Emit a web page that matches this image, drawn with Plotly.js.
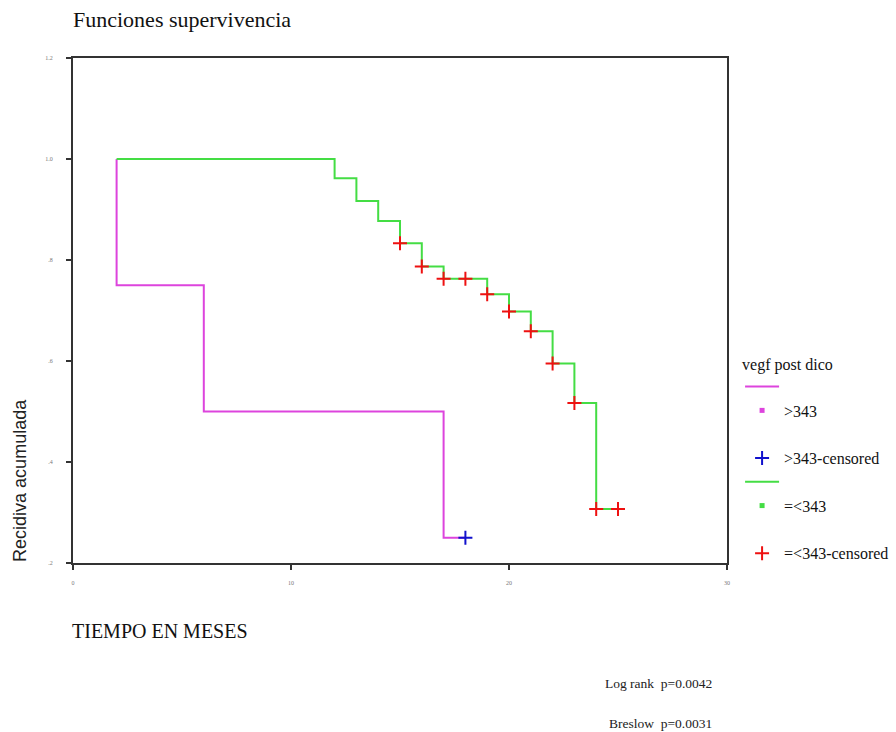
<!DOCTYPE html>
<html>
<head>
<meta charset="utf-8">
<script src="https://cdn.plot.ly/plotly-3.0.1.min.js"></script>
<style>html,body{margin:0;padding:0;background:#fff;}#chart{width:896px;height:732px;}</style>
</head>
<body>
<div id="chart"></div>
<script>
// >343 group: step curve
const highTimes = [2, 2, 6, 17, 18];
const highSurv = [1.0, 0.75, 0.5, 0.25, 0.25];
const highCensTimes = [18];
const highCensSurv = [0.25];

// =<343 group: step curve
const lowTimes = [2, 12, 13, 14, 15, 16, 17, 19, 20, 21, 22, 23, 24, 25];
const lowSurv = [1.0, 0.962, 0.917, 0.877, 0.833, 0.787, 0.763, 0.732, 0.698, 0.659, 0.595, 0.517, 0.307, 0.307];
const lowCensTimes = [15, 16, 17, 18, 19, 20, 21, 22, 23, 24, 25];
const lowCensSurv = [0.833, 0.787, 0.763, 0.763, 0.732, 0.698, 0.659, 0.595, 0.517, 0.307, 0.307];

const xTickVals = [0, 10, 20, 30];
const xTickText = ['0', '10', '20', '30'];
const yTickVals = [0.2, 0.4, 0.6, 0.8, 1.0, 1.2];
const yTickText = ['.2', '.4', '.6', '.8', '1.0', '1.2'];

const legendTitle = 'vegf post dico';
const groupNames = ['>343', '=<343'];
const statLines = ['Log rank  p=0.0042', 'Breslow  p=0.0031'];

const magenta = '#dd44dd';
const green = '#44dd44';
const red = '#ee1111';
const blue = '#1111cc';
const serif = 'Liberation Serif, Times New Roman, serif';
const sans = 'Liberation Sans, Arial, sans-serif';

function spacer() {
  return {x: [null], y: [null], mode: 'markers',
          marker: {color: 'rgba(0,0,0,0)', size: 1, line: {width: 0, color: 'rgba(0,0,0,0)'}},
          name: ' ', showlegend: true, hoverinfo: 'skip'};
}

const traces = [
  {x: highTimes, y: highSurv, mode: 'lines', line: {shape: 'hv', color: magenta, width: 2},
   name: ' ', showlegend: true, hoverinfo: 'skip'},
  {x: [null], y: [null], mode: 'markers', marker: {symbol: 'square', color: magenta, size: 5},
   name: groupNames[0], showlegend: true},
  spacer(),
  {x: highCensTimes, y: highCensSurv, mode: 'markers',
   marker: {symbol: 'cross-thin-open', size: 10, line: {color: blue, width: 2}, color: blue},
   name: groupNames[0] + '-censored'},
  {x: lowTimes, y: lowSurv, mode: 'lines', line: {shape: 'hv', color: green, width: 2},
   name: ' ', showlegend: true, hoverinfo: 'skip'},
  {x: [null], y: [null], mode: 'markers', marker: {symbol: 'square', color: green, size: 5},
   name: groupNames[1], showlegend: true},
  spacer(),
  {x: lowCensTimes, y: lowCensSurv, mode: 'markers',
   marker: {symbol: 'cross-thin-open', size: 10, line: {color: red, width: 2}, color: red},
   name: groupNames[1] + '-censored'}
];

const axisCommon = {
  showline: true, mirror: true, linecolor: '#333', linewidth: 2,
  showgrid: false, zeroline: false, ticks: 'outside', ticklen: 5, tickwidth: 2, tickcolor: '#333',
  tickfont: {family: serif, size: 6, color: '#777'}
};

const layout = {
  width: 896, height: 732,
  paper_bgcolor: '#fff', plot_bgcolor: '#fff',
  margin: {l: 73, r: 169, t: 58, b: 169, autoexpand: false},
  title: {text: 'Funciones supervivencia', x: 73/896, xanchor: 'left', xref: 'container',
          y: 1 - 19/732, yanchor: 'middle', yref: 'container',
          font: {family: serif, size: 22, color: '#111'}},
  xaxis: Object.assign({}, axisCommon, {range: [0, 30], tickvals: xTickVals, ticktext: xTickText, ticklabelstandoff: 8}),
  yaxis: Object.assign({}, axisCommon, {range: [0.2, 1.2], tickvals: yTickVals, ticktext: yTickText, ticklabelstandoff: 12}),
  showlegend: true,
  legend: {
    title: {text: legendTitle, font: {family: serif, size: 16, color: '#111'}},
    font: {family: serif, size: 16, color: '#111'},
    x: 1.02, xanchor: 'left', y: 0.424, yanchor: 'top',
    itemwidth: 34, traceorder: 'normal', bgcolor: 'rgba(0,0,0,0)'
  },
  annotations: [
    {text: 'Recidiva acumulada', textangle: -90, xref: 'paper', yref: 'paper',
     x: -53/653, y: (563 - 480)/505, xanchor: 'center', yanchor: 'middle', showarrow: false,
     font: {family: sans, size: 18, color: '#222'}},
    {text: 'TIEMPO EN MESES', xref: 'paper', yref: 'paper', x: -3/653, y: -(631 - 563)/505,
     xanchor: 'left', yanchor: 'middle', showarrow: false,
     font: {family: serif, size: 20, color: '#111'}},
    {text: statLines[0], xref: 'paper', yref: 'paper', x: (713 - 73)/653, y: -(683 - 563)/505,
     xanchor: 'right', yanchor: 'middle', showarrow: false,
     font: {family: serif, size: 13.5, color: '#222'}},
    {text: statLines[1], xref: 'paper', yref: 'paper', x: (713 - 73)/653, y: -(723 - 563)/505,
     xanchor: 'right', yanchor: 'middle', showarrow: false,
     font: {family: serif, size: 13.5, color: '#222'}}
  ]
};

Plotly.newPlot('chart', traces, layout, {displayModeBar: false, staticPlot: true});
</script>
</body>
</html>
